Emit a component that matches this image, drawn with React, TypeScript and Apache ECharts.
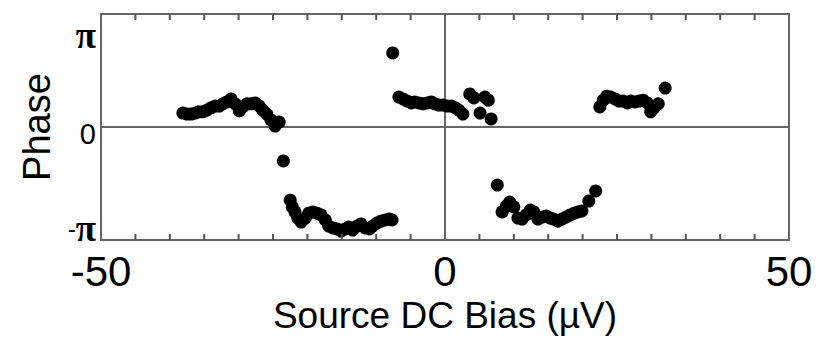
import React, { useEffect, useRef } from "react";
import * as echarts from "echarts";

// Source DC bias (µV) and phase (rad)
const biasValues: number[] = [
  -38.1, -37.5, -36.9, -36.3, -35.8, -35.2, -34.6, -34.0, -33.4, -32.8, -32.3, -31.7, -31.1, -30.5, -29.9, -29.4,
  -28.8, -28.2, -27.6, -27.0, -26.5, -25.9, -25.3, -24.7, -24.1, -23.5,
  -22.5, -22.2, -21.8, -21.4, -20.9, -20.3, -19.8, -19.2, -18.6, -18.0, -17.4, -16.9, -16.3, -15.7, -15.1, -14.5,
  -14.0, -13.4, -12.8, -12.2, -11.6, -11.0, -10.5, -9.9, -9.3, -8.7, -8.1, -7.7,
  -7.6, -6.7, -6.1, -5.5, -4.9, -4.4, -3.8, -3.2, -2.6, -2.0, -1.5, -0.9, -0.3, 0.3, 0.9, 1.5, 2.0, 2.6, 3.6, 4.2,
  5.1, 5.8, 6.3, 6.7,
  7.6, 8.3, 8.9, 9.4, 10.0, 10.6, 11.2, 11.8, 12.4, 12.9, 13.5, 14.1, 14.7, 15.3, 15.8, 16.4, 17.0, 17.6, 18.2,
  18.8, 19.3, 19.9, 20.9, 21.9,
  22.5, 23.0, 23.5, 24.1, 24.7, 25.3, 25.9, 26.5, 27.0, 27.6, 28.2, 28.8, 29.4, 29.9, 30.4, 31.0, 32.0,
];
const phaseValues: number[] = [
  0.45, 0.42, 0.42, 0.45, 0.49, 0.49, 0.55, 0.62, 0.68, 0.68, 0.75, 0.81, 0.91, 0.75, 0.52, 0.65,
  0.75, 0.75, 0.78, 0.68, 0.55, 0.42, 0.23, 0.03, 0.16, -1.1,
  -2.37, -2.59, -2.75, -2.95, -3.08, -2.95, -2.79, -2.75, -2.79, -2.85, -3.01, -3.21, -3.27, -3.3, -3.37, -3.3,
  -3.24, -3.34, -3.21, -3.14, -3.27, -3.3, -3.21, -3.11, -3.05, -3.01, -2.98, -3.01,
  2.4, 0.97, 0.91, 0.84, 0.78, 0.81, 0.78, 0.75, 0.78, 0.81, 0.75, 0.71, 0.71, 0.68, 0.68, 0.62, 0.55, 0.42, 1.07, 0.94,
  0.45, 0.97, 0.87, 0.26,
  -1.88, -2.75, -2.56, -2.43, -2.59, -2.95, -2.98, -2.85, -2.69, -2.75, -2.98, -2.92, -2.88, -2.95, -2.98, -3.05,
  -2.98, -2.92, -2.85, -2.79, -2.75, -2.72, -2.4, -2.07,
  0.65, 0.87, 1.0, 0.97, 0.91, 0.84, 0.84, 0.78, 0.84, 0.81, 0.84, 0.87, 0.78, 0.49, 0.62, 0.75, 1.26,
];
const xTickLabels: number[] = [-50, 0, 50];
const xTickValues: number[] = [-45, -40, -35, -30, -25, -20, -15, -10, -5, 5, 10, 15, 20, 25, 30, 35, 40, 45];
const yTickLabels: string[] = ["-π", "0", "π"];
const yTickValues: number[] = [-Math.PI, 0, Math.PI];
const yMin = -3.66;
const yMax = 3.66;

export default function App() {
  const ref = useRef<HTMLDivElement>(null);
  useEffect(() => {
    if (!ref.current) return;
    const chart = echarts.init(ref.current, undefined, { renderer: "svg" });
    const frame = "#666666";
    const font = "'Liberation Sans', Arial, Helvetica, sans-serif";
    const data = biasValues.map((b, i) => [b, phaseValues[i]]);
    const yLabel = (v: number) => {
      if (v > 0.5) return "{pi|" + yTickLabels[2] + "}";
      if (v < -0.5) return "{m|-}{pi|π}";
      return "{z|" + yTickLabels[1] + "}";
    };
    const tickMarkStyle = {
      type: "scatter",
      xAxisIndex: 0,
      yAxisIndex: 0,
      silent: true,
      clip: false,
      symbol: "rect",
      symbolSize: [2, 6],
      itemStyle: { color: "#555555", opacity: 1 },
      z: 4,
    };
    chart.setOption({
      animation: false,
      backgroundColor: "#ffffff",
      grid: { left: 101, right: 35, top: 14, bottom: 100 },
      xAxis: [
        {
          type: "value",
          position: "bottom",
          min: -50,
          max: 50,
          interval: 5,
          name: "Source DC Bias (µV)",
          nameLocation: "middle",
          nameGap: 46,
          nameTextStyle: { fontFamily: font, fontSize: 37, color: "#000" },
          axisLine: { show: true, onZero: false, lineStyle: { color: frame, width: 2 } },
          axisTick: { show: false },
          axisLabel: {
            formatter: (v: number) => (xTickLabels.indexOf(v) >= 0 ? String(v) : ""),
            fontFamily: font,
            fontSize: 42,
            lineHeight: 34,
            color: "#000",
            margin: 14,
          },
          splitLine: { show: false },
        },
        {
          type: "value",
          position: "top",
          min: -50,
          max: 50,
          interval: 50,
          axisLine: { show: true, onZero: false, lineStyle: { color: frame, width: 2 } },
          axisTick: { show: false },
          axisLabel: { show: false },
          splitLine: { show: false },
        },
      ],
      yAxis: [
        {
          type: "value",
          position: "left",
          min: yMin,
          max: yMax,
          name: "Phase",
          nameLocation: "middle",
          nameGap: 45,
          nameTextStyle: { fontFamily: font, fontSize: 38, color: "#000" },
          axisLine: { show: true, onZero: false, lineStyle: { color: frame, width: 2 } },
          axisTick: { show: false },
          axisLabel: {
            customValues: yTickValues,
            formatter: yLabel,
            color: "#000",
            margin: 5,
            rich: {
              pi: { fontFamily: "'Liberation Serif', serif", fontWeight: "bold", fontSize: 37, lineHeight: 18, color: "#000", padding: [10, 0, 0, 0] },
              m: { fontFamily: font, fontSize: 24, lineHeight: 18, color: "#000", padding: [10, 0, 0, 0] },
              z: { fontFamily: font, fontSize: 29, lineHeight: 24, color: "#000", padding: [14, 0, 0, 0] },
            },
          },
          splitLine: { show: false },
        },
        {
          type: "value",
          position: "right",
          min: yMin,
          max: yMax,
          axisLine: { show: true, onZero: false, lineStyle: { color: frame, width: 2 } },
          axisTick: { show: false },
          axisLabel: { show: false },
          splitLine: { show: false },
        },
      ],
      series: [
        {
          ...tickMarkStyle,
          name: "ticksBottom",
          symbolOffset: [0, -3],
          data: xTickValues.map((v) => [v, yMin]),
        },
        {
          ...tickMarkStyle,
          name: "ticksTop",
          symbolOffset: [0, 3],
          data: xTickValues.map((v) => [v, yMax]),
        },
        {
          type: "scatter",
          xAxisIndex: 0,
          yAxisIndex: 0,
          data,
          symbol: "circle",
          symbolSize: 13,
          z: 3,
          itemStyle: { color: "#000", opacity: 1 },
          markLine: {
            silent: true,
            symbol: "none",
            label: { show: false },
            lineStyle: { color: frame, width: 2, type: "solid", opacity: 1 },
            data: [{ xAxis: 0 }, { yAxis: 0 }],
            z: 1,
          },
        },
      ],
    });
    return () => chart.dispose();
  }, []);
  return (
    <div
      ref={ref}
      style={{ position: "absolute", left: 0, top: 0, width: 824, height: 340 }}
    />
  );
}
